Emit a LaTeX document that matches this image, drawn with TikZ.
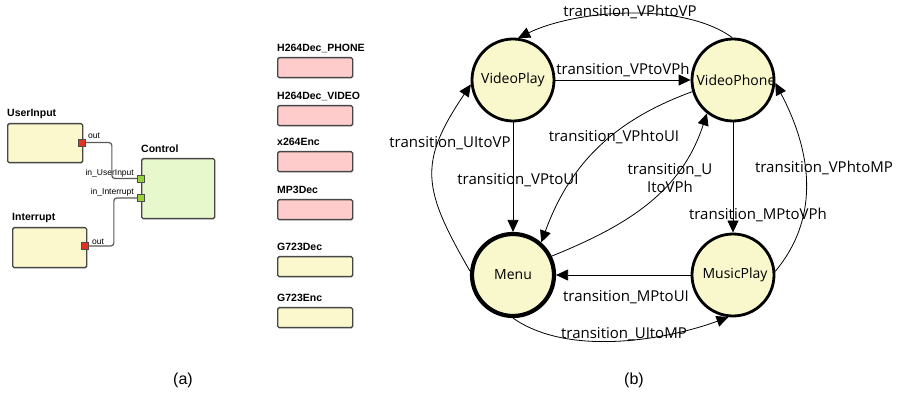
\documentclass[tikz,border=0pt]{standalone}
\usepackage{fontspec}
\setmainfont{Open Sans}
\newfontfamily\arialfont{Liberation Sans}
\usetikzlibrary{arrows.meta,positioning}

\definecolor{statefill}{RGB}{249,247,204}
\definecolor{modyellow}{RGB}{250,248,204}
\definecolor{modgreen}{RGB}{231,248,205}
\definecolor{modpink}{RGB}{255,204,204}
\definecolor{portred}{RGB}{225,50,35}
\definecolor{portgreen}{RGB}{150,210,60}
\definecolor{modborder}{RGB}{70,70,70}

\newcommand\modfont{\arialfont\bfseries\fontsize{10.5}{12}\selectfont}
\newcommand\portfont{\arialfont\fontsize{8.5}{10}\selectfont}
\newcommand\statefont{\fontsize{14}{18}\selectfont}
\newcommand\transfont{\fontsize{15}{18}\selectfont}
\newcommand\capfont{\arialfont\fontsize{16}{18}\selectfont}

\begin{document}
\begin{tikzpicture}[x=1pt,y=1pt,
  module/.style={draw=modborder,line width=1.4pt,rounded corners=1.5pt,
    minimum width=75pt,minimum height=20pt,inner sep=0pt,anchor=north west},
  modlabel/.style={font=\modfont,anchor=base west,inner sep=0pt},
  port/.style={draw=black!70,line width=0.7pt,minimum size=7pt,inner sep=0pt},
  portlabel/.style={font=\portfont,inner sep=0pt},
  wire/.style={draw=black!65,line width=1.2pt,rounded corners=3pt},
  state/.style={circle,draw=black,fill=statefill,line width=2.8pt,
    minimum size=82pt,inner sep=0pt},
  statetext/.style={font=\statefont,inner sep=0pt},
  trans/.style={-{Triangle[length=12pt,width=11pt]},line width=0.8pt},
  translab/.style={font=\transfont,inner sep=1pt}]
  \useasboundingbox (0,0) rectangle (897,-395);

  % (a)
  \node[module,fill=modyellow,minimum width=75pt,minimum height=39pt] (userinput) at (7,-123) {};
  \node[modlabel] (userinput-lab) at ([yshift=6pt]userinput.north west) {UserInput};
  \node[module,fill=modyellow,minimum width=74pt,minimum height=40pt] (interrupt) at (12,-227) {};
  \node[modlabel] (interrupt-lab) at ([yshift=6pt]interrupt.north west) {Interrupt};
  \node[module,fill=modgreen,minimum width=73pt,minimum height=60pt] (control) at (141,-158) {};
  \node[modlabel] (control-lab) at ([yshift=5pt]control.north west) {Control};

  \node[port,fill=portred] (uiout) at (82,-142.5) {};
  \node[port,fill=portred] (intout) at (85,-246) {};
  \node[port,fill=portgreen] (ctrlui) at (141,-178.5) {};
  \node[port,fill=portgreen] (ctrlint) at (141,-198) {};
  \node[portlabel,anchor=base west] (uiout-lab) at (88,-138.5) {out};
  \node[portlabel,anchor=base west] (intout-lab) at (92,-244.5) {out};
  \node[portlabel,anchor=base east] (ctrlui-lab) at (134,-176) {in\_UserInput};
  \node[portlabel,anchor=base east] (ctrlint-lab) at (134,-194.5) {in\_Interrupt};

  \draw[wire] (uiout.east) -- ++(26,0) |- (ctrlui.west);
  \draw[wire] (intout.east) -- ++(25,0) |- (ctrlint.west);

  \foreach \name/\lab/\top/\col in {phone/H264Dec\_PHONE/57/modpink,
    video/H264Dec\_VIDEO/105/modpink, xenc/x264Enc/151/modpink,
    mpdec/MP3Dec/199/modpink, gdec/G723Dec/256/modyellow,
    genc/G723Enc/307/modyellow}{
    \node[module,fill=\col] (\name) at (277,-\top) {};
    \node[modlabel] (\name-lab) at ([yshift=5pt]\name.north west) {\lab};
  }

  % (b)
  \node[state,label={[statetext]center:VideoPlay}] (vp) at (513,-80) {};
  \node[state,label={[statetext,xshift=3pt]center:VideoPhone}] (vph) at (733,-80) {};
  \node[state,line width=4.2pt,label={[statetext]center:Menu}] (menu) at (513,-275) {};
  \node[state,label={[statetext,xshift=2pt]center:MusicPlay}] (mp) at (733,-275) {};

  \draw[trans] (vph.91) to[out=144,in=26,looseness=0.75] (vp.83);
  \draw[trans] (vp.east) -- (vph.west);
  \draw[trans] (vph.196) to[out=200,in=70] (menu.49);
  \draw[trans] (menu.26) to[out=22,in=-108] (vph.-128);
  \draw[trans] (vp.south) -- (menu.north);
  \draw[trans] (menu.175) to[out=120,in=-124,looseness=1.3] (vp.186);
  \draw[trans] (vph.south) -- (mp.north);
  \draw[trans] (mp.5) to[out=50,in=-62] (vph.-4);
  \draw[trans] (mp.west) -- (menu.east);
  \draw[trans] (menu.-90) to[out=-35,in=-160,looseness=0.8] (mp.-96);

  \node[translab] (l-vphvp) at (630,-12) {transition\_VPhtoVP};
  \node[translab] (l-vpvph) at (623,-70) {transition\_VPtoVPh};
  \node[translab] (l-vphui) at (614,-137) {transition\_VPhtoUI};
  \node[translab] (l-vpui) at (518,-180) {transition\_VPtoUI};
  \node[translab] (l-uivp) at (450,-143) {transition\_UItoVP};
  \node[translab,align=center] (l-uivph) at (670,-178) {transition\_U\\ItoVPh};
  \node[translab] (l-vphmp) at (824,-168) {transition\_VPhtoMP};
  \node[translab] (l-mpvph) at (758,-215) {transition\_MPtoVPh};
  \node[translab] (l-mpui) at (626,-297) {transition\_MPtoUI};
  \node[translab] (l-uimp) at (624,-334) {transition\_UItoMP};

  \node[font=\capfont] (cap-a) at (183,-380) {(a)};
  \node[font=\capfont] (cap-b) at (634,-380) {(b)};
\end{tikzpicture}
\end{document}
